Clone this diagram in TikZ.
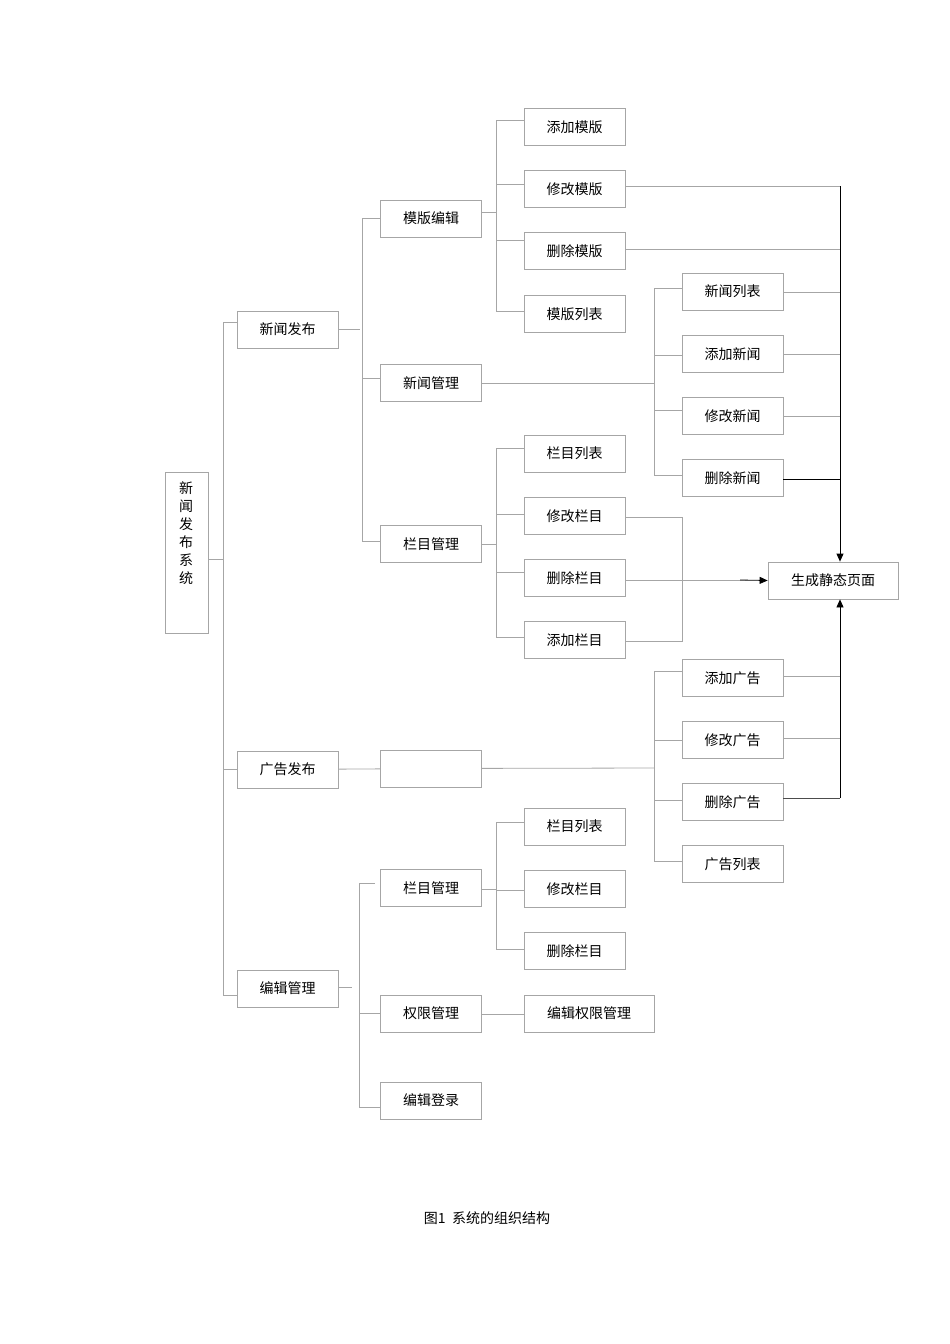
\documentclass[tikz,border=0pt]{standalone}
\usepackage{fontspec}
\setmainfont{Noto Sans CJK SC}
\usetikzlibrary{arrows.meta}
\begin{document}
\begin{tikzpicture}[x=1pt,y=-1pt,
  bx/.style={draw=black!35,line width=0.8pt,minimum height=37pt,minimum width=101pt,inner sep=0pt,font=\fontsize{14}{16}\selectfont},
  ln/.style={draw=black!35,line width=0.8pt},
  ar/.style={draw=black,line width=0.8pt,-{Triangle[length=8pt,width=7pt]}}]
\useasboundingbox (0,0) rectangle (950,1344);
% root
\node[bx,minimum width=43pt,minimum height=161pt] (root) at (186.5,552.5) {};
\node[font=\fontsize{14}{18}\selectfont,align=center,anchor=north,inner sep=0pt] (roott) at (186,481) {新\\闻\\发\\布\\系\\统};
% level 1
\node[bx] (n1) at (287.5,329.5) {新闻发布};
\node[bx] (n2) at (287.5,769.5) {广告发布};
\node[bx] (n3) at (287.5,988.5) {编辑管理};
% level 2
\node[bx] (m1) at (431,218.5) {模版编辑};
\node[bx] (m2) at (431,383) {新闻管理};
\node[bx] (m3) at (431,544) {栏目管理};
\node[bx] (m4) at (431,768.5) {};
\node[bx] (m5) at (431,888) {栏目管理};
\node[bx] (m6) at (431,1013.5) {权限管理};
\node[bx] (m7) at (431,1100.5) {编辑登录};
% level 3 templates
\node[bx] (t1) at (574.5,127) {添加模版};
\node[bx] (t2) at (574.5,189) {修改模版};
\node[bx] (t3) at (574.5,251) {删除模版};
\node[bx] (t4) at (574.5,314) {模版列表};
% news
\node[bx] (w1) at (732.5,291.5) {新闻列表};
\node[bx] (w2) at (732.5,354) {添加新闻};
\node[bx] (w3) at (732.5,416) {修改新闻};
\node[bx] (w4) at (732.5,478) {删除新闻};
% columns
\node[bx] (c1) at (574.5,453.5) {栏目列表};
\node[bx] (c2) at (574.5,516) {修改栏目};
\node[bx] (c3) at (574.5,578) {删除栏目};
\node[bx] (c4) at (574.5,640) {添加栏目};
% static page
\node[bx,minimum width=130pt] (s) at (833,580.5) {生成静态页面};
% ads
\node[bx] (a1) at (732.5,678) {添加广告};
\node[bx] (a2) at (732.5,740) {修改广告};
\node[bx] (a3) at (732.5,802) {删除广告};
\node[bx] (a4) at (732.5,864) {广告列表};
% edit columns
\node[bx] (e1) at (574.5,826.5) {栏目列表};
\node[bx] (e2) at (574.5,889) {修改栏目};
\node[bx] (e3) at (574.5,951) {删除栏目};
\node[bx,minimum width=130pt] (e4) at (589,1013.5) {编辑权限管理};
% caption
\node[font=\fontsize{14}{16}\selectfont] (cap) at (487,1218) {图1\ \ 系统的组织结构};

% trunk
\draw[ln] (root.east |- 0,559) -- (223,559);
\draw[ln] (223,322) -- (223,995);
\draw[ln] (223,322) -- (n1.west |- 0,322);
\draw[ln] (223,769) -- (n2.west |- 0,769);
\draw[ln] (223,995) -- (n3.west |- 0,995);
% news publish
\draw[ln] (n1.east |- 0,329) -- (360,329);
\draw[ln] (362,218) -- (362,541);
\draw[ln] (362,218) -- (m1.west |- 0,218);
\draw[ln] (362,378) -- (m2.west |- 0,378);
\draw[ln] (362,541) -- (m3.west |- 0,541);
% templates
\draw[ln] (m1.east |- 0,212) -- (496,212);
\draw[ln] (496,120) -- (496,311);
\foreach \n/\y in {t1/120,t2/184,t3/240,t4/311} \draw[ln] (496,\y) -- (\n.west |- 0,\y);
% news mgmt
\draw[ln] (m2) -- (654,383);
\draw[ln] (654,288) -- (654,475);
\foreach \n/\y in {w1/288,w2/355,w3/410,w4/475} \draw[ln] (654,\y) -- (\n.west |- 0,\y);
% columns
\draw[ln] (m3) -- (496,544);
\draw[ln] (496,448) -- (496,637);
\foreach \n/\y in {c1/448,c2/514,c3/572,c4/637} \draw[ln] (496,\y) -- (\n.west |- 0,\y);
\draw[ln] (c2.east |- 0,517) -- (682,517) -- (682,641) -- (c4.east |- 0,641);
% to static page
\draw[ln] (t2.east |- 0,186) -- (840,186);
\draw[ln] (t3.east |- 0,249) -- (840,249);
\foreach \n/\y in {w1/292,w2/354,w3/416} \draw[ln] (\n.east |- 0,\y) -- (840,\y);
\draw[line width=0.8pt] (w4.east |- 0,479) -- (840,479);
\draw[ar] (840,186) -- (s.north -| 840,0);
\draw[ln] (c3.east |- 0,580) -- (745,580);
\draw[ar] (740,580) -- (s.west);
% ads
\draw[ln] (n2) -- (m4);
\draw[ln] (m4) -- (654,768);
\draw[ln] (654,671) -- (654,861);
\foreach \n/\y in {a1/671,a2/740,a3/800,a4/861} \draw[ln] (654,\y) -- (\n.west |- 0,\y);
\foreach \n/\y in {a1/676,a2/738} \draw[ln] (\n.east |- 0,\y) -- (840,\y);
\draw[line width=0.8pt,black!70] (a3.east |- 0,798) -- (840,798);
\draw[ar] (840,798) -- (s.south -| 840,0);
% edit mgmt
\draw[ln] (n3.east |- 0,987) -- (352,987);
\draw[ln] (359,883) -- (359,1107);
\draw[ln] (359,883) -- (375,883);
\draw[ln] (359,1013) -- (m6.west |- 0,1013);
\draw[ln] (359,1107) -- (m7.west |- 0,1107);
\draw[ln] (m5.east |- 0,889) -- (496,889);
\draw[ln] (496,822) -- (496,949);
\foreach \n/\y in {e1/822,e2/890,e3/949} \draw[ln] (496,\y) -- (\n.west |- 0,\y);
\draw[ln] (m6.east |- 0,1014) -- (e4.west |- 0,1014);
\end{tikzpicture}
\end{document}
